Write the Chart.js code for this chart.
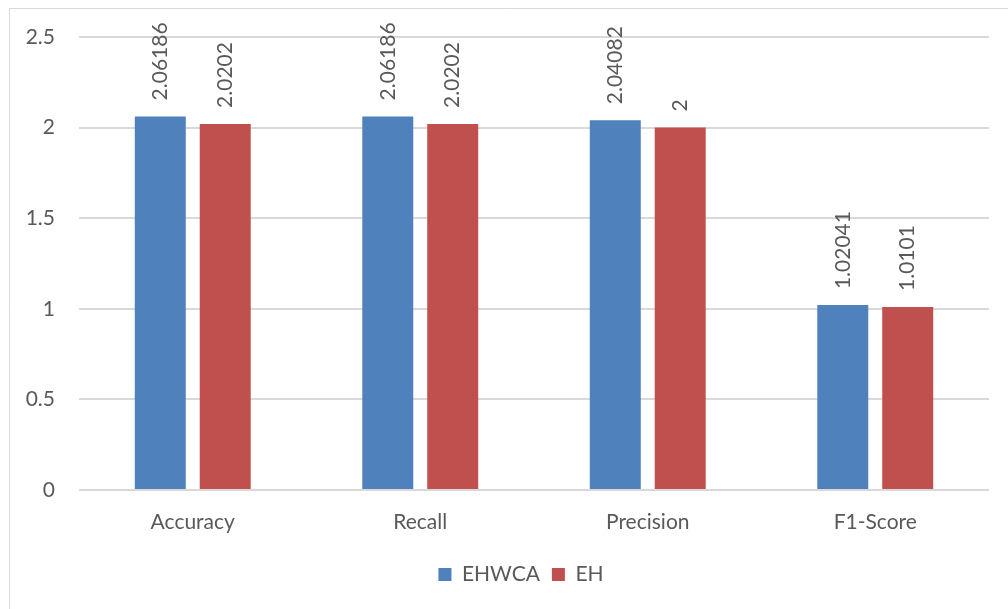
<!DOCTYPE html>
<html>
<head>
<meta charset="utf-8">
<script src="https://cdn.jsdelivr.net/npm/chart.js@4.4.0/dist/chart.umd.min.js"></script>
<style>
  html, body { margin: 0; padding: 0; background: #ffffff; }
  #wrap { position: relative; width: 1008px; height: 609px; }
  canvas { display: block; }
</style>
</head>
<body>
<div id="wrap"><canvas id="c" width="1008" height="609"></canvas></div>
<script>
// Metric categories and the two methods' scores
const categories = ['Accuracy', 'Recall', 'Precision', 'F1-Score'];
const ehwcaValues = [2.06186, 2.06186, 2.04082, 1.02041];
const ehValues = [2.0202, 2.0202, 2, 1.0101];
const seriesNames = ['EHWCA', 'EH'];
const yTicks = [0, 0.5, 1, 1.5, 2, 2.5];

const FONT = 'Lato, "Open Sans", sans-serif';
const TEXT = '#595959';
const SIZE = 21;

// Draws each bar's value rotated upright, just above the bar
const valueLabels = {
  id: 'valueLabels',
  afterDatasetsDraw(chart) {
    const ctx = chart.ctx;
    ctx.save();
    ctx.font = SIZE + 'px ' + FONT;
    ctx.fillStyle = TEXT;
    ctx.textAlign = 'left';
    ctx.textBaseline = 'middle';
    chart.data.datasets.forEach((ds, di) => {
      chart.getDatasetMeta(di).data.forEach((bar, i) => {
        ctx.save();
        ctx.translate(bar.x, bar.y - 16);
        ctx.rotate(-Math.PI / 2);
        ctx.fillText(String(ds.data[i]), 0, 0);
        ctx.restore();
      });
    });
    ctx.restore();
  }
};

// Thin frame around the chart
const frame = {
  id: 'frame',
  beforeDraw(chart) {
    const ctx = chart.ctx;
    ctx.save();
    ctx.fillStyle = '#ffffff';
    ctx.fillRect(0, 0, chart.width, chart.height);
    ctx.strokeStyle = '#d9d9d9';
    ctx.lineWidth = 1;
    ctx.beginPath();
    ctx.moveTo(9.5, chart.height);
    ctx.lineTo(9.5, 8.5);
    ctx.lineTo(chart.width, 8.5);
    ctx.stroke();
    ctx.restore();
  }
};

// Place the legend a little left of the plot's centre
const legendPlacement = {
  id: 'legendPlacement',
  afterLayout(chart) {
    const lg = chart.legend;
    if (!lg) return;
    const shift = 521 - (lg.left + lg.width / 2);
    lg.left += shift;
    lg.right += shift;
    if (lg.legendHitBoxes) lg.legendHitBoxes.forEach(b => { b.left += shift; });
  }
};

new Chart(document.getElementById('c'), {
  type: 'bar',
  data: {
    labels: categories,
    datasets: [
      { label: seriesNames[0], data: ehwcaValues, backgroundColor: '#4F81BD' },
      { label: seriesNames[1], data: ehValues, backgroundColor: '#C0504D' }
    ]
  },
  options: {
    responsive: false,
    animation: false,
    devicePixelRatio: 1,
    categoryPercentage: 0.571,
    barPercentage: 0.785,
    layout: { padding: { top: 37, right: 19, left: 0, bottom: 14 } },
    scales: {
      x: {
        grid: { display: false, drawTicks: false },
        border: { display: false },
        ticks: { color: TEXT, font: { family: FONT, size: SIZE }, padding: 20 },
        afterFit(scale) { scale.height = 62; }
      },
      y: {
        min: 0,
        max: 2.5,
        afterBuildTicks(scale) { scale.ticks = yTicks.map(v => ({ value: v })); },
        grid: { color: '#d9d9d9', lineWidth: 2, drawTicks: false },
        border: { display: false },
        ticks: {
          color: TEXT,
          font: { family: FONT, size: SIZE },
          padding: 24,
          callback: v => String(v)
        },
        afterFit(scale) { scale.width = 79; }
      }
    },
    plugins: {
      legend: {
        position: 'bottom',
        labels: {
          color: TEXT,
          font: { family: FONT, size: SIZE },
          boxWidth: 13,
          boxHeight: 13,
          padding: 12
        }
      },
      tooltip: { enabled: false }
    }
  },
  plugins: [frame, legendPlacement, valueLabels]
});
</script>
</body>
</html>
